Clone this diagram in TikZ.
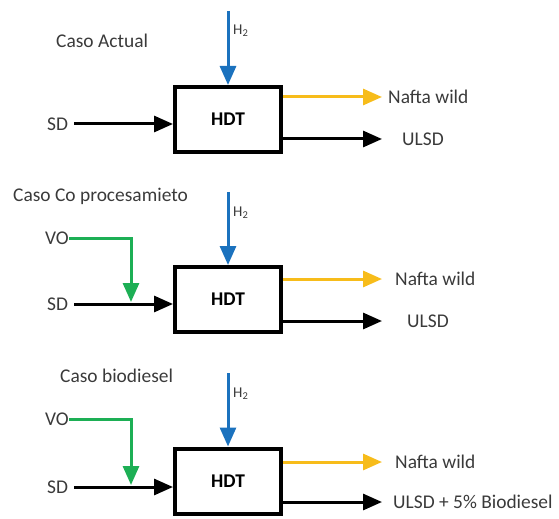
\documentclass[tikz,border=0pt]{standalone}
\usepackage{fontspec}
\setmainfont{Carlito}
\usetikzlibrary{arrows.meta}
\definecolor{hblue}{HTML}{1B72BE}
\definecolor{nyellow}{HTML}{F7BC1A}
\definecolor{vgreen}{HTML}{1DAF55}
\definecolor{txt}{HTML}{3A3A3A}
\begin{document}
\begin{tikzpicture}[x=1bp,y=-1bp,
  lbl/.style={anchor=west,inner sep=0pt,font=\fontsize{19.5}{22}\selectfont,text=txt},
  hlbl/.style={anchor=west,inner sep=0pt,font=\fontsize{15}{17}\selectfont,text=txt},
  hdt/.style={draw=black,line width=4bp,minimum width=106bp,minimum height=65bp,inner sep=0pt,font=\fontsize{19.5}{22}\selectfont\bfseries},
  flow/.style={line width=3bp,-{Triangle[length=19bp,width=16bp]}},
  h2flow/.style={flow,draw=hblue},
  nflow/.style={flow,draw=nyellow},
  vflow/.style={flow,draw=vgreen},
  bflow/.style={flow,draw=black},
]
\useasboundingbox (0,0) rectangle (559,519);

% ---------- Panel 1 ----------
\node[hdt] (b1) at (228,119.5) {HDT};
\node[lbl] (c1) at (56,41) {Caso Actual};
\node[hlbl] (h1) at (233,31) {H\textsubscript{2}};
\coordinate (t1) at (228,11);
\draw[h2flow] (t1) -- (b1.north);
\node[lbl] (sd1) at (47,124) {SD};
\draw[bflow] ([xshift=6bp]sd1.east) -- (sd1 -| b1.west);
\node[lbl] (n1) at (388,97) {Nafta wild};
\draw[nflow] (b1.east |- n1) -- ([xshift=-6bp]n1.west);
\node[lbl] (u1) at (402,139) {ULSD};
\draw[bflow] (b1.east |- u1) -- ([xshift=-20bp]u1.west);

% ---------- Panel 2 ----------
\node[hdt] (b2) at (228,299.5) {HDT};
\node[lbl] (c2) at (13,196) {Caso Co procesamieto};
\node[hlbl] (h2) at (233,213) {H\textsubscript{2}};
\coordinate (t2) at (228,192);
\draw[h2flow] (t2) -- (b2.north);
\node[lbl] (vo2) at (45,238) {VO};
\node[lbl] (sd2) at (47,304) {SD};
\draw[bflow] ([xshift=6bp]sd2.east) -- (sd2 -| b2.west);
\coordinate (j2) at (131,302);
\draw[vflow] (vo2.east) -| (j2);
\node[lbl] (n2) at (395,279) {Nafta wild};
\draw[nflow] (b2.east |- n2) -- ([xshift=-13bp]n2.west);
\node[lbl] (u2) at (407,321) {ULSD};
\draw[bflow] (b2.east |- u2) -- ([xshift=-25bp]u2.west);

% ---------- Panel 3 ----------
\node[hdt] (b3) at (228,481) {HDT};
\node[lbl] (c3) at (60,376) {Caso biodiesel};
\node[hlbl] (h3) at (233,394) {H\textsubscript{2}};
\coordinate (t3) at (228,373);
\draw[h2flow] (t3) -- (b3.north);
\node[lbl] (vo3) at (45,419) {VO};
\node[lbl] (sd3) at (47,487) {SD};
\draw[bflow] ([xshift=6bp]sd3.east) -- (sd3 -| b3.west);
\coordinate (j3) at (131,485);
\draw[vflow] (vo3.east) -| (j3);
\node[lbl] (n3) at (395,462) {Nafta wild};
\draw[nflow] (b3.east |- n3) -- ([xshift=-13bp]n3.west);
\node[lbl] (u3) at (393,502) {ULSD + 5\% Biodiesel};
\draw[bflow] (b3.east |- u3) -- ([xshift=-11bp]u3.west);
\end{tikzpicture}
\end{document}
